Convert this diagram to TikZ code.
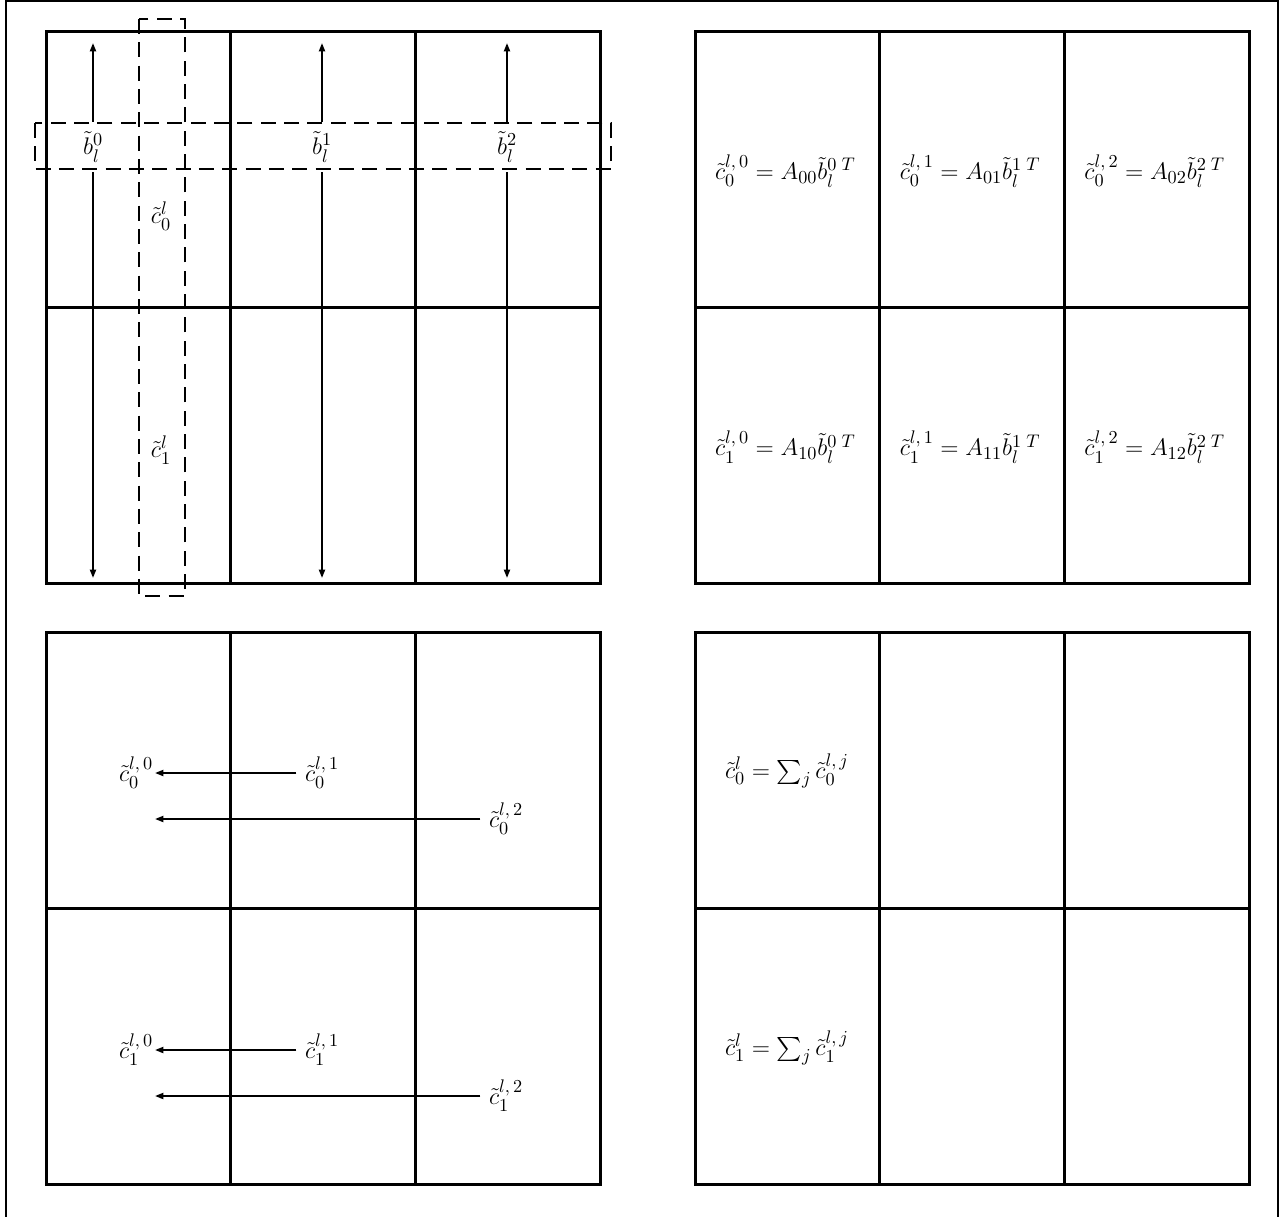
\documentclass[tikz,border=0pt]{standalone}
\usepackage{amsmath}
\usepackage{tikz}
\usetikzlibrary{arrows.meta,positioning,calc}
\DeclareMathSizes{14}{14}{10.5}{8}

\begin{document}
\begin{tikzpicture}[x=0.6pt, y=-0.6pt,
  font=\fontsize{14}{16}\selectfont,
  frameLine/.style={line width=1.2pt},
  gridBox/.style  ={line width=1.8pt},
  gridLine/.style ={line width=1.5pt},
  dashBox/.style  ={line width=1.6pt, dash pattern=on 9pt off 5pt},
  mArrow/.style   ={line width=1.1pt, -{Triangle[length=5pt,width=3.6pt]}},
  mLabel/.style   ={inner sep=1pt},
  srcLabel/.style ={inner xsep=5pt, inner ysep=1pt},
]
\useasboundingbox (0,0) rectangle (1286,1217);
% open frame round the four panels
\draw[frameLine] (6,1217) -- (6,1) -- (1278,1) -- (1278,1217);

\def\cw{184.7}
\def\ch{276.3}
% four 3x2 grids
\foreach \gx/\gy in {46/31, 695/31, 46/632, 695/632} {
  \draw[gridBox] (\gx,\gy) rectangle ++(3*\cw,2*\ch);
  \draw[gridLine] (\gx,\gy+\ch) -- ++(3*\cw,0);
  \foreach \i in {1,2}
    \draw[gridLine] (\gx+\i*\cw,\gy) -- ++(0,2*\ch);
}

% top left: columns b and rows c
\foreach \k/\x in {0/93, 1/322, 2/507} {
  \node[mLabel, inner ysep=6pt] (b\k) at (\x,147) {$\tilde{b}_l^{\k}$};
  \coordinate (bt\k) at (\x,43);
  \coordinate (bb\k) at (\x,578);
  \draw[mArrow] (b\k) -- (bt\k);
  \draw[mArrow] (b\k) -- (bb\k);
}
\draw[dashBox] (35,123) rectangle (611,169);
\draw[dashBox] (139,19) rectangle (185,596);
\node[mLabel] (c0) at (161,216) {$\tilde{c}_0^l$};
\node[mLabel] (c1) at (161,450) {$\tilde{c}_1^l$};

% top right: block products
\foreach \r in {0,1} {
  \foreach \k in {0,1,2} {
    \node[mLabel] (p\r\k) at ({693+(\k+0.5)*\cw},{33+(\r+0.5)*\ch})
      {$\tilde{c}_\r^{l,\,\k} = A_{\r\k}\tilde{b}_l^{\k\;T}$};
  }
}

% bottom left: partial sums moved to column 0
\foreach \r/\y in {0/773, 1/1050} {
  \node[mLabel] (s\r0) at (136,\y) {$\tilde{c}_\r^{l,\,0}$};
  \node[srcLabel] (s\r1) at (322,\y) {$\tilde{c}_\r^{l,\,1}$};
  \node[srcLabel] (s\r2) at (506,\y+46) {$\tilde{c}_\r^{l,\,2}$};
  \draw[mArrow] (s\r1.west) -- (s\r1.west -| s\r0.east);
  \draw[mArrow] (s\r2.west) -- (s\r2.west -| s\r0.east);
}

% bottom right: reduced rows
\node[mLabel] (t0) at (787,771) {$\tilde{c}_0^l = \sum_j \tilde{c}_0^{l,\,j}$};
\node[mLabel] (t1) at (787,1048) {$\tilde{c}_1^l = \sum_j \tilde{c}_1^{l,\,j}$};
\end{tikzpicture}
\end{document}
